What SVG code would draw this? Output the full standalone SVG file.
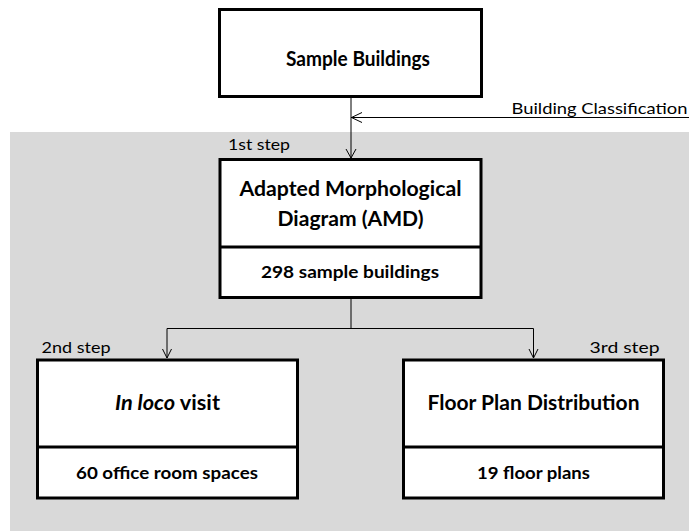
<svg xmlns="http://www.w3.org/2000/svg" width="689" height="531" viewBox="0 0 689 531">
  <style>
    .box { fill: #ffffff; stroke: #000000; stroke-width: 3; }
    .div { stroke: #000000; stroke-width: 3; }
    .wire { fill: none; stroke: #000000; stroke-width: 1; }
    .head { fill: none; stroke: #000000; stroke-width: 1; }
    .title { font-family: Lato, "Open Sans", "Liberation Sans", sans-serif; font-weight: bold; font-size: 20px; fill: #000000; text-anchor: middle; }
    .sub { font-family: Lato, "Open Sans", "Liberation Sans", sans-serif; font-weight: bold; font-size: 17px; fill: #000000; text-anchor: middle; }
    .note { font-family: Lato, "Open Sans", "Liberation Sans", sans-serif; font-size: 16px; fill: #000000; }
  </style>

  <!-- shaded process area -->
  <rect x="10" y="132" width="679" height="399" fill="#d9d9d9"/>

  <!-- connectors -->
  <g id="connectors">
    <line class="wire" x1="351" y1="97" x2="351" y2="158"/>
    <polyline class="head" points="346,149 351,158 356,149"/>
    <line class="wire" x1="351" y1="117.5" x2="689" y2="117.5"/>
    <polyline class="head" points="362,112.5 351.5,117.5 362,122.5"/>
    <polyline class="wire" points="351,298 351,328.5 167,328.5 167,358"/>
    <polyline class="head" points="162.5,349 167,358 171.5,349"/>
    <polyline class="wire" points="351,328.5 533.5,328.5 533.5,358"/>
    <polyline class="head" points="529,349 533.5,358 538,349"/>
    <text class="note" x="511.5" y="114" textLength="176" lengthAdjust="spacingAndGlyphs">Building Classification</text>
  </g>

  <g id="sample-buildings">
    <rect class="box" x="219.5" y="9.5" width="262" height="87"/>
    <text class="title" x="358" y="66" textLength="144" lengthAdjust="spacingAndGlyphs">Sample Buildings</text>
  </g>

  <g id="amd">
    <text class="note" x="228" y="150" textLength="62" lengthAdjust="spacingAndGlyphs">1st step</text>
    <rect class="box" x="220" y="159.5" width="261" height="138"/>
    <line class="div" x1="220" y1="247" x2="481" y2="247"/>
    <text class="title" x="350.5" y="196" textLength="222" lengthAdjust="spacingAndGlyphs">Adapted Morphological</text>
    <text class="title" x="350.5" y="226" textLength="146" lengthAdjust="spacingAndGlyphs">Diagram (AMD)</text>
    <text class="sub" x="350" y="278" textLength="178" lengthAdjust="spacingAndGlyphs">298 sample buildings</text>
  </g>

  <g id="in-loco-visit">
    <text class="note" x="41.5" y="353" textLength="69" lengthAdjust="spacingAndGlyphs">2nd step</text>
    <rect class="box" x="37.5" y="360" width="260" height="138"/>
    <line class="div" x1="37.5" y1="447" x2="297.5" y2="447"/>
    <text class="title" x="167.5" y="410" textLength="105" lengthAdjust="spacingAndGlyphs"><tspan font-style="italic">In loco</tspan> visit</text>
    <text class="sub" x="167" y="479" textLength="182" lengthAdjust="spacingAndGlyphs">60 office room spaces</text>
  </g>

  <g id="floor-plan-distribution">
    <text class="note" x="659.5" y="353" text-anchor="end" textLength="70" lengthAdjust="spacingAndGlyphs">3rd  step</text>
    <rect class="box" x="403.5" y="360" width="260" height="138"/>
    <line class="div" x1="403.5" y1="447" x2="663.5" y2="447"/>
    <text class="title" x="533.5" y="410" textLength="212" lengthAdjust="spacingAndGlyphs">Floor Plan Distribution</text>
    <text class="sub" x="533.5" y="479" textLength="113" lengthAdjust="spacingAndGlyphs">19 floor plans</text>
  </g>
</svg>
